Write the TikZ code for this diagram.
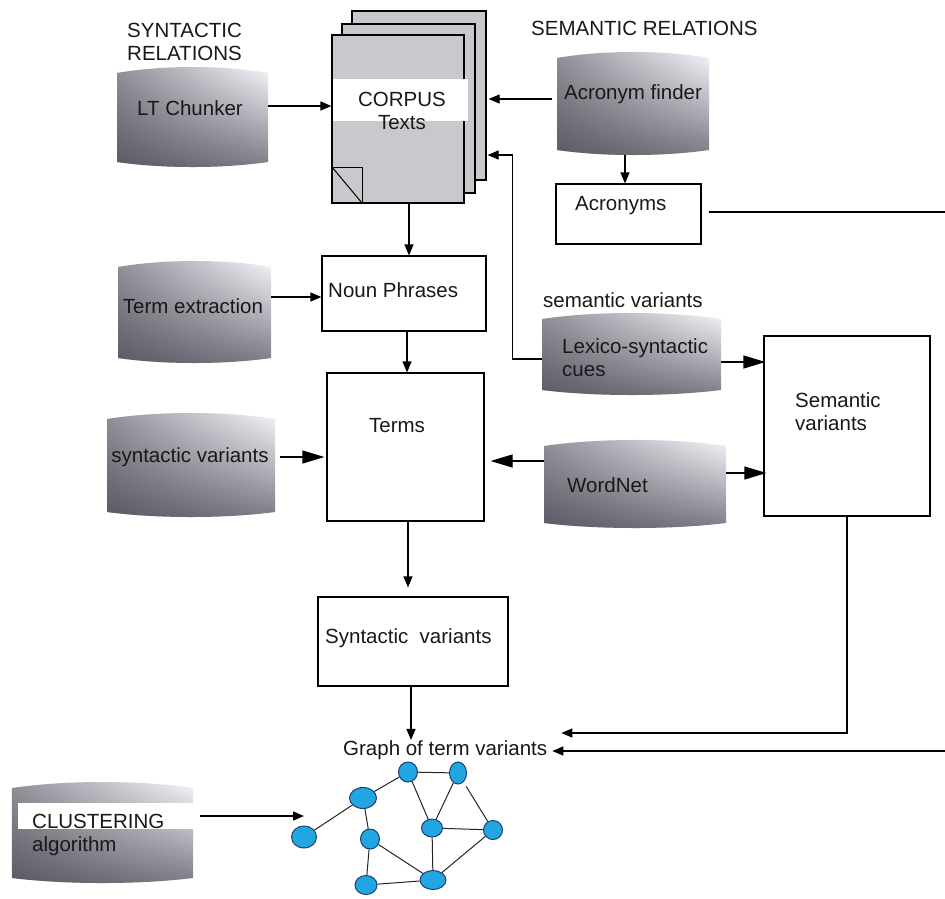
\documentclass[tikz,border=0pt]{standalone}
\usepackage{fontspec}
\setmainfont{Liberation Sans}
\usetikzlibrary{arrows.meta,shapes.geometric,fit,calc,fadings}
\definecolor{pagegray}{HTML}{C9C9CD}
\definecolor{bTop}{HTML}{F8F8FE}
\definecolor{bMid}{HTML}{CACAD2}
\definecolor{bBot}{HTML}{7A7A84}
\definecolor{hLeft}{HTML}{3E3E48}
\definecolor{nodecyan}{HTML}{22A6E2}
\definecolor{nodeedge}{HTML}{1B3F73}
\tikzfading[name=darkleft, left color=transparent!0, middle color=transparent!85, right color=transparent!100]
\newcommand\lblfont{\fontsize{20.5}{23.5}\selectfont}
\newcommand\twolines[3]{\begin{tabular}[t]{@{}#1@{}}#2\\#3\end{tabular}}
\newcommand\barrelpath[4]{(#1,{#2+6}) .. controls ({#1+0.3*(#3-#1)},{#2-2}) and ({#1+0.7*(#3-#1)},{#2-2}) .. (#3,{#2+6}) -- (#3,{#4-5}) .. controls ({#1+0.7*(#3-#1)},{#4+1.67}) and ({#1+0.3*(#3-#1)},{#4+1.67}) .. (#1,{#4-5}) -- cycle}
\newcommand\barrelbox[5]{%
  \shade[top color=bTop, middle color=bMid, bottom color=bBot] \barrelpath{#2}{#3}{#4}{#5};
  \fill[hLeft, fill opacity=0.55, path fading=darkleft] \barrelpath{#2}{#3}{#4}{#5};
  \node[fit={(#2,#3) (#4,#5)}, inner sep=0pt] (#1) {};
}
\tikzset{
  box/.style={draw=black, fill=white, line width=1.2pt, inner sep=0pt},
  page/.style={draw=black, fill=pagegray, line width=1.2pt, inner sep=0pt},
  txt/.style={inner sep=0pt, font=\lblfont, text=black!90},
  arr/.style={-{Triangle[length=11pt,width=9pt]}, line width=1.2pt},
  bigarr/.style={-{Triangle[length=22pt,width=13pt]}, line width=1.2pt},
  plain/.style={line width=1.2pt},
  gnode/.style={ellipse, fill=nodecyan, draw=nodeedge, line width=1pt, inner sep=0pt},
  gedge/.style={line width=1pt, draw=black!85},
}
\begin{document}
\begin{tikzpicture}[x=1pt,y=-1pt]
\useasboundingbox (0,0) rectangle (945,898);
\fill[white] (0,0) rectangle (945,898);

% gradient tool boxes
\barrelbox{ltc}{117}{67}{268}{167}
\barrelbox{acf}{557}{52}{709}{155}
\barrelbox{tex}{118}{261}{271}{363}
\barrelbox{synb}{107}{413}{275}{517}
\barrelbox{lex}{542}{313}{721}{395}
\barrelbox{wn}{544}{440}{726}{528}
\barrelbox{clus}{12}{782}{193}{883}
\fill[white] (18,803) rectangle (195,829);

% corpus pages
\node[page, fit={(352,11) (486,180)}] (corpusback) {};
\node[page, fit={(342,24) (475,193)}] (corpusmid) {};
\node[page, fit={(332,35) (464,203)}] (corpus) {};
\fill[white] (333,79) rectangle (468,121);
\draw[plain, line width=1pt] (332,167) -- (362,167) -- (362,203);
\draw[line width=1pt] (332,167) -- (362,203);

% white boxes
\node[box, fit={(556,184) (701,244)}] (acr) {};
\node[box, fit={(322,256) (486,331)}] (np) {};
\node[box, fit={(327,373) (484,521)}] (terms) {};
\node[box, fit={(764,336) (930,516)}] (semv) {};
\node[box, fit={(318,597) (508,686)}] (synvar) {};

% texts
\node[txt, anchor=base west] (synrel) at (127,37) {\twolines{l}{SYNTACTIC}{RELATIONS}};
\node[txt, anchor=base west] (semrel) at (531,35) {SEMANTIC RELATIONS};
\node[txt, anchor=base] (ltcT) at (190,115) {LT Chunker};
\node[txt, anchor=base] (corpusT) at (402,106) {\twolines{c}{CORPUS}{Texts}};
\node[txt, anchor=base] (acfT) at (633,99) {Acronym finder};
\node[txt, anchor=base west] (acrT) at (575,210) {Acronyms};
\node[txt, anchor=base west] (npT) at (328,297) {Noun Phrases};
\node[txt, anchor=base] (texT) at (193,313) {Term extraction};
\node[txt, anchor=base] (synbT) at (190,462) {syntactic variants};
\node[txt, anchor=base] (termsT) at (397,432) {Terms};
\node[txt, anchor=base west] (semvarlbl) at (543,307) {semantic variants};
\node[txt, anchor=base west] (lexT) at (562,353) {\twolines{l}{Lexico-syntactic}{cues}};
\node[txt, anchor=base west] (semvT) at (795,407) {\twolines{l}{Semantic}{variants}};
\node[txt, anchor=base west] (wnT) at (567,492) {WordNet};
\node[txt, anchor=base west] (synvarT) at (325,643) {Syntactic~ variants};
\node[txt, anchor=base west] (glbl) at (343,755) {Graph of term variants};
\node[txt, anchor=base west] (clusT) at (32,828) {\twolines{l}{CLUSTERING}{algorithm}};

% free ends at the right border
\coordinate (edgeA) at (945,212);
\coordinate (edgeB) at (945,751);

% connectors
\draw[arr] (ltc.east |- 0,106) -- (corpus.west |- 0,106);
\draw[arr] ([xshift=-5pt]acf.west |- 0,99) -- ([xshift=2pt]corpusback.east |- 0,99);
\draw[arr] ([yshift=-5pt]lex.west) -- ++(-29,0) |- ([xshift=1pt]corpusback.east |- 0,155);
\draw[arr] (acf.south -| 625,0) -- (acr.north -| 625,0);
\draw[plain, shorten <=7pt] (acr.east |- 0,212) -- (edgeA);
\draw[arr] (corpus.south -| 409,0) -- (np.north -| 409,0);
\draw[arr] (tex.east |- 0,297) -- (np.west |- 0,297);
\draw[arr] (np.south -| 407,0) -- (terms.north -| 407,0);
\draw[bigarr, shorten <=5pt] (synb.east |- 0,457) -- ([xshift=-2pt]terms.west |- 0,457);
\draw[bigarr] (lex.east |- 0,362) -- ([xshift=2pt]semv.west |- 0,362);
\draw[bigarr] (wn.west |- 0,461) -- ([xshift=6pt]terms.east |- 0,461);
\draw[bigarr] (wn.east |- 0,473) -- ([xshift=3pt]semv.west |- 0,473);
\draw[arr, shorten >=9pt] (terms.south -| 408,0) -- (synvar.north -| 408,0);
\draw[arr] (synvar.south -| 411,0) -- (glbl.north -| 411,0);
\draw[arr] (semv.south) |- ([xshift=14pt]glbl.east |- 0,733);
\draw[arr] (edgeB) -- ([xshift=5pt]glbl.east |- 0,751);

% graph of term variants
\node[gnode, minimum width=19pt, minimum height=20pt] (gA) at (408,772) {};
\node[gnode, minimum width=17pt, minimum height=22pt] (gB) at (458,773) {};
\node[gnode, minimum width=27pt, minimum height=21pt] (gC) at (363,798) {};
\node[gnode, minimum width=25pt, minimum height=22pt] (gD) at (304,837) {};
\node[gnode, minimum width=19pt, minimum height=20pt] (gE) at (370,839) {};
\node[gnode, minimum width=21pt, minimum height=18pt] (gF) at (432,828) {};
\node[gnode, minimum width=19pt, minimum height=19pt] (gG) at (493,830) {};
\node[gnode, minimum width=22pt, minimum height=19pt] (gH) at (366,885) {};
\node[gnode, minimum width=26pt, minimum height=19pt] (gI) at (433,880) {};
\draw[gedge] (gA) -- (gB);
\draw[gedge] (gC) -- (gA);
\draw[gedge] (gC) -- (gD);
\draw[gedge] (gC) -- (gE);
\draw[gedge] (gA) -- (gF);
\draw[gedge] (gB) -- (gF);
\draw[gedge] (gF) -- (gG);
\draw[gedge] (gE) -- (gI);
\draw[gedge] (gE) -- (gH);
\draw[gedge] (gH) -- (gI);
\draw[gedge] (gF) -- (gI);
\draw[gedge] (gG) -- (gI);
\draw[gedge, shorten <=5pt] (gB) -- (gG);

\draw[arr, shorten <=7pt] (clus.east |- 0,816) -- (gD.north |- 0,816);
\end{tikzpicture}
\end{document}
